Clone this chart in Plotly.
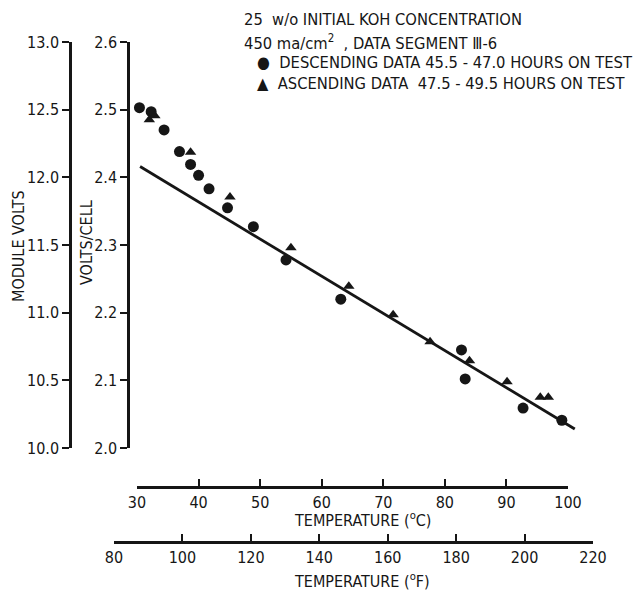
import plotly.graph_objects as go

# ---------------- data ----------------
desc_temp_c = [30.4, 32.3, 34.4, 36.9, 38.7, 40.0, 41.7, 44.7, 48.9, 54.2, 63.1, 82.7, 83.3, 92.7, 99.0]
desc_volts = [2.503, 2.497, 2.470, 2.438, 2.419, 2.403, 2.383, 2.355, 2.327, 2.278, 2.220, 2.145, 2.102, 2.059, 2.041]

asc_temp_c = [32.0, 32.9, 38.7, 45.1, 55.0, 64.4, 71.6, 77.6, 84.0, 90.1, 95.5, 96.8]
asc_volts = [2.485, 2.491, 2.437, 2.371, 2.296, 2.239, 2.197, 2.157, 2.129, 2.098, 2.075, 2.075]

fit_temp_c = [30.5, 101.1]
fit_volts = [2.416, 2.028]

title_lines = [
    "25  w/o INITIAL KOH CONCENTRATION",
    "450 ma/cm<sup>2</sup>  , DATA SEGMENT Ⅲ-6",
    "●  DESCENDING DATA 45.5 - 47.0 HOURS ON TEST",
    "▲  ASCENDING DATA  47.5 - 49.5 HOURS ON TEST",
]

# ---------------- layout geometry (pixels) ----------------
W, H = 635, 595
FONT = "Liberation Sans Narrow, DejaVu Sans Condensed, Arial Narrow, sans-serif"
INK = "#161616"

# pixel anchors of the scales
C_LO, C_HI, PX_C_LO, PX_C_HI = 30, 100, 137, 568
V_LO, V_HI, PY_V_LO, PY_V_HI = 2.0, 2.6, 448, 42
F_LO, F_HI, PX_F_LO, PX_F_HI = 80, 220, 114, 593
PY_C_AXIS = 487
PY_F_AXIS = 542
PX_VC_AXIS = 128
PX_MV_AXIS = 70

kx = (PX_C_HI - PX_C_LO) / (C_HI - C_LO)
ky = (PY_V_LO - PY_V_HI) / (V_HI - V_LO)
main_x_range = [C_LO - PX_C_LO / kx, C_LO + (W - PX_C_LO) / kx]
main_y_range = [V_LO - (H - PY_V_LO) / ky, V_HI + PY_V_HI / ky]


def px(x):
    return x / W


def py(y):
    return 1 - y / H


fig = go.Figure()

# fitted line
fig.add_trace(go.Scatter(
    x=fit_temp_c, y=fit_volts, mode="lines",
    line=dict(color=INK, width=2.8), showlegend=False, hoverinfo="skip",
))
# descending data (circles)
fig.add_trace(go.Scatter(
    x=desc_temp_c, y=desc_volts, mode="markers",
    marker=dict(symbol="circle", size=11, color=INK),
    name="Descending", showlegend=False, cliponaxis=False,
))
# ascending data (triangles)
fig.add_trace(go.Scatter(
    x=asc_temp_c, y=asc_volts, mode="markers",
    marker=dict(symbol="triangle-up", size=10, color=INK),
    name="Ascending", showlegend=False, cliponaxis=False,
))
# placeholder traces so the decorative scale axes are drawn
fig.add_trace(go.Scatter(x=[None], y=[None], xaxis="x2", yaxis="y2",
                         showlegend=False, hoverinfo="skip"))
fig.add_trace(go.Scatter(x=[None], y=[None], xaxis="x3", yaxis="y3",
                         showlegend=False, hoverinfo="skip"))

axis_common = dict(
    showline=True, linecolor=INK, linewidth=2.5, showgrid=False, zeroline=False,
    tickcolor=INK, tickwidth=2, ticklen=7, automargin=False,
    tickfont=dict(family=FONT, size=16, color=INK), fixedrange=True,
)

fig.update_layout(
    width=W, height=H,
    margin=dict(l=0, r=0, t=0, b=0, pad=0, autoexpand=False),
    paper_bgcolor="white", plot_bgcolor="rgba(0,0,0,0)",
    font=dict(family=FONT, color=INK),
    xaxis=dict(domain=[0, 1], range=main_x_range, visible=False, fixedrange=True),
    yaxis=dict(domain=[0, 1], range=main_y_range, visible=False, fixedrange=True),
    # Celsius scale
    xaxis2=dict(
        domain=[px(PX_C_LO), px(PX_C_HI)], range=[C_LO, C_HI],
        anchor="free", position=py(PY_C_AXIS), side="bottom",
        tick0=30, dtick=10, ticks="inside", **axis_common,
    ),
    # Volts per cell scale
    yaxis2=dict(
        domain=[py(PY_V_LO), py(PY_V_HI)], range=[V_LO, V_HI],
        anchor="free", position=px(PX_VC_AXIS), side="left",
        tick0=2.0, dtick=0.1, tickformat=".1f", ticks="outside", **axis_common,
    ),
    # Fahrenheit scale
    xaxis3=dict(
        domain=[px(PX_F_LO), px(PX_F_HI)], range=[F_LO, F_HI],
        anchor="free", position=py(PY_F_AXIS), side="bottom",
        tick0=80, dtick=20, ticks="inside", **axis_common,
    ),
    # Module volts scale
    yaxis3=dict(
        domain=[py(PY_V_LO), py(PY_V_HI)], range=[10.0, 13.0],
        anchor="free", position=px(PX_MV_AXIS), side="left",
        tick0=10.0, dtick=0.5, tickformat=".1f", ticks="outside", **axis_common,
    ),
)

ann = []
common_ann = dict(xref="paper", yref="paper", showarrow=False,
                  xanchor="center", yanchor="middle",
                  font=dict(family=FONT, size=16, color=INK))
# axis titles
ann.append(dict(text="TEMPERATURE (<sup>o</sup>C)", x=px(362), y=py(519), **common_ann))
ann.append(dict(text="TEMPERATURE (<sup>o</sup>F)", x=px(362), y=py(580), **common_ann))
ann.append(dict(text="VOLTS/CELL", x=px(86), y=py(243), textangle=-90, **common_ann))
ann.append(dict(text="MODULE VOLTS", x=px(19), y=py(246), textangle=-90, **common_ann))
# header text
header_pos = [(242, 20), (242, 42), (255, 63), (255, 84)]
for t, (hx, hy) in zip(title_lines, header_pos):
    ann.append(dict(text=t, x=px(hx), y=py(hy), xanchor="left", yanchor="middle",
                    xref="paper", yref="paper", showarrow=False,
                    font=dict(family=FONT, size=16.4, color=INK)))
fig.update_layout(annotations=ann)

fig.write_html(
    "out.html",
    config={"displayModeBar": False},
    post_script="document.body.style.margin='0';document.body.style.overflow='hidden';",
)
